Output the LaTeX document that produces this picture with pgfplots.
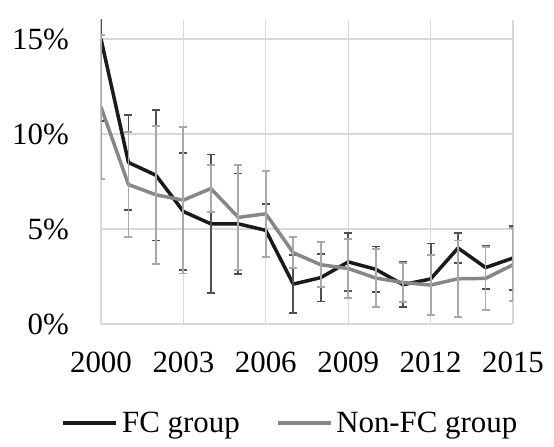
\documentclass[border=0pt]{standalone}
\usepackage{pgfplots}
\pgfplotsset{compat=1.18}
\usepackage{pgfplotstable}
\usepackage{fontspec}
\setmainfont{Liberation Serif}

\definecolor{fcline}{HTML}{1A1A1A}
\definecolor{fcerr}{HTML}{505050}
\definecolor{nfcline}{HTML}{878787}
\definecolor{nfcerr}{HTML}{A8A8A8}
\definecolor{gridc}{HTML}{D9D9D9}

% rate per year (percent) with error half-widths
\pgfplotstableread{
year  fc     fcerr  nfc    nfcerr
2000  15.00  4.30   11.42  3.80
2001  8.50   2.52   7.34   2.75
2002  7.83   3.44   6.80   3.64
2003  5.92   3.07   6.52   3.86
2004  5.27   3.65   7.13   1.23
2005  5.27   2.65   5.61   2.75
2006  4.93   1.40   5.80   2.27
2007  2.10   1.52   3.75   0.81
2008  2.44   1.26   3.12   1.19
2009  3.27   1.52   2.92   1.54
2010  2.88   1.20   2.42   1.51
2011  2.07   1.18   2.18   1.02
2012  2.37   1.87   2.05   1.58
2013  4.00   0.80   2.38   2.01
2014  2.97   1.13   2.40   1.66
2015  3.47   1.70   3.12   1.92
}\data

\begin{document}
\begin{tikzpicture}
\begin{axis}[
  scale only axis, width=412bp, height=304bp,
  xmin=2000, xmax=2015, ymin=0, ymax=16,
  xtick={2000,2003,...,2015},
  xticklabels={2000,2003,2006,2009,2012,2015},
  ytick={0,5,10,15},
  yticklabels={0\%,5\%,10\%,15\%},
  grid=major,
  major grid style={color=gridc, line width=1.3bp},
  axis line style={draw=none},
  major tick length=0pt,
  tick label style={font=\fontsize{31}{37}\selectfont, inner sep=0pt},
  xticklabel style={yshift=-28bp},
  yticklabel style={xshift=-32bp},
  legend style={at={(0.5,0)}, anchor=center, xshift=-17.5bp, yshift=-99bp,
    draw=none, fill=none, inner sep=0pt, legend columns=2,
    font=\fontsize{31}{37}\selectfont, nodes={inner sep=0pt},
    /tikz/every even column/.append style={column sep=36bp},
    /tikz/every odd column/.append style={column sep=4bp}},
  legend cell align=left,
  legend image code/.code={\draw[#1] (0bp,0bp) -- (53bp,0bp);},
]
\addplot[color=fcline, line width=3.5bp, line join=round, mark=none,
  error bars/.cd, y dir=both, y explicit,
  error bar style={color=fcerr, line width=1.8bp},
  error mark options={rotate=90, mark size=4bp, line width=1.8bp, color=fcerr}]
  table[x=year, y=fc, y error=fcerr] {\data};
\addlegendentry{FC group}
\addplot[color=nfcline, line width=3.5bp, line join=round, mark=none,
  error bars/.cd, y dir=both, y explicit,
  error bar style={color=nfcerr, line width=1.8bp},
  error mark options={rotate=90, mark size=4bp, line width=1.8bp, color=nfcerr}]
  table[x=year, y=nfc, y error=nfcerr] {\data};
\addlegendentry{Non-FC group}
\end{axis}
\path (current axis.south west) ++(-101bp,-123bp) rectangle ++(554bp,447bp);
\end{tikzpicture}
\end{document}
